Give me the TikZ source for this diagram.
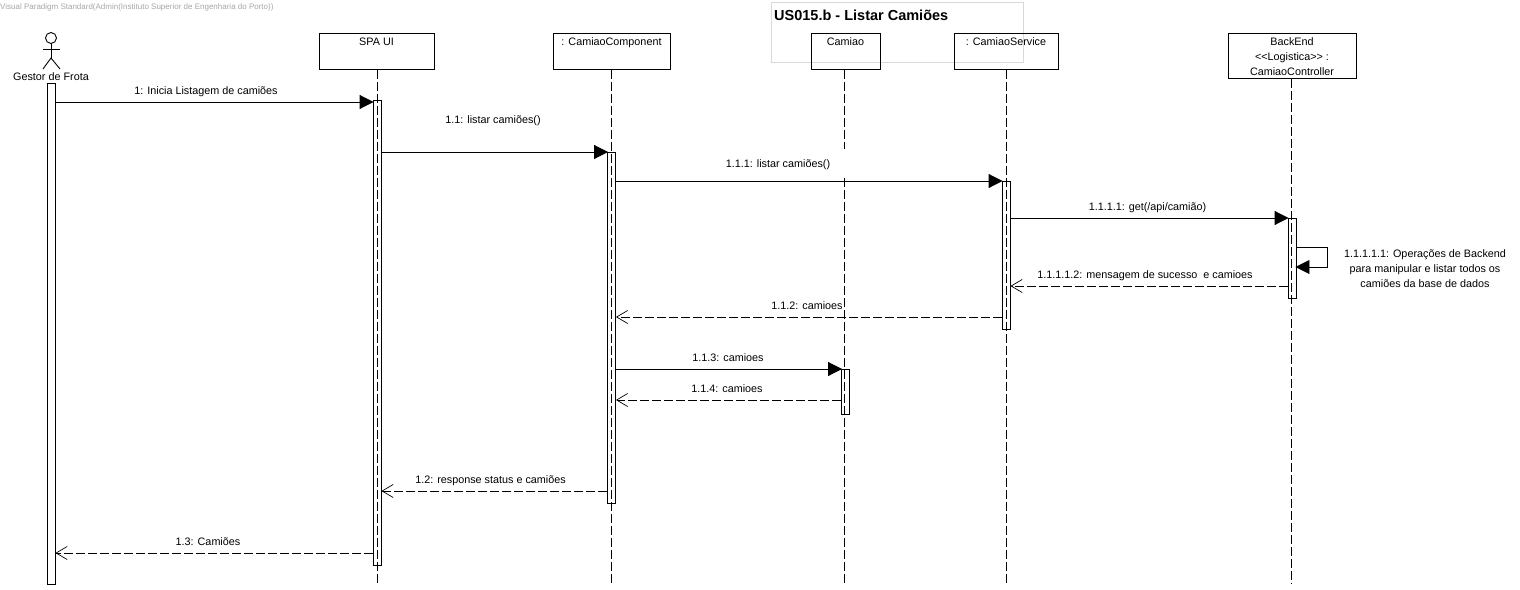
\documentclass[tikz,border=0pt]{standalone}
\usepackage{fontspec}
\setmainfont{Liberation Sans}
\usepackage{xcolor}
\usetikzlibrary{arrows.meta}
\tikzset{
  lifebox/.style={draw, line width=0.9pt, minimum height=36pt, inner sep=0pt, anchor=north},
  boxtext/.style={font=\fontsize{10.8}{15}\selectfont, align=center, yshift=-1.5pt},
  lifeline/.style={line width=0.9pt, dash pattern=on 9pt off 3pt},
  actbar/.style={draw, line width=0.9pt, minimum width=8pt, inner sep=0pt, anchor=north},
  msglabel/.style={font=\fontsize{10.8}{15}\selectfont, align=center, inner sep=0pt, yshift=-1.2pt},
  syncarrow/.style={line width=0.9pt, shorten >=-1pt, -{Triangle[length=14pt,width=14pt]}},
  replyarrow/.style={line width=0.9pt, dash pattern=on 9pt off 3pt, -{Straight Barb[length=11pt,width=13pt,line width=0.7pt]}}
}
\begin{document}
\begin{tikzpicture}[x=1pt, y=-1pt]
\useasboundingbox (0,0) rectangle (1520,589);

% Header
\node[anchor=west, inner sep=0pt, text=gray!70, font=\fontsize{8}{10}\selectfont] (vpmark) at (0,7) {Visual Paradigm Standard(Admin(Instituto Superior de Engenharia do Porto))};
\node[draw=gray!30, line width=0.8pt, minimum width=252pt, minimum height=60pt, inner sep=0pt, anchor=north west] (titlebox) at (771,2) {};
\node[anchor=west, inner sep=0pt, font=\fontsize{14.5}{16}\selectfont\bfseries] (title) at (774,15) {US015.b - Listar Camiões};

% Actor
\node[draw, circle, line width=0.9pt, minimum size=11pt, inner sep=0pt] (gestorhead) at (51,38) {};
\coordinate (gestorhip) at (51,58);
\coordinate (gestorarml) at (43,49);
\coordinate (gestorarmr) at (60,49);
\coordinate (gestorlegl) at (43,69);
\coordinate (gestorlegr) at (60,69);
\draw[line width=0.9pt] (gestorhead) -- (gestorhip);
\draw[line width=0.9pt] (gestorarml) -- (gestorarmr);
\draw[line width=0.9pt] (gestorlegl) -- (gestorhip) -- (gestorlegr);
\node[msglabel] (gestor) at (51,75) {Gestor de Frota};

% Lifelines
\node[lifebox, minimum width=115pt] (spa) at (376.5,33) {};
\node[boxtext, anchor=north] (spatext) at (spa.north) {SPA UI};
\node[lifebox, minimum width=117pt] (comp) at (611.5,33) {};
\node[boxtext, anchor=north] (comptext) at (comp.north) {: CamiaoComponent};
\node[lifebox, minimum width=69pt] (camiao) at (845.5,33) {};
\node[boxtext, anchor=north] (camiaotext) at (camiao.north) {Camiao};
\node[lifebox, minimum width=104pt] (serv) at (1006,33) {};
\node[boxtext, anchor=north] (servtext) at (serv.north) {: CamiaoService};
\node[lifebox, minimum width=128pt, minimum height=45pt] (back) at (1292,33) {};
\node[boxtext, anchor=north] (backtext) at (back.north) {BackEnd\\<{}<Logistica>{}> :\\CamiaoController};

\coordinate (spaend) at (377,583);
\coordinate (compend) at (611,583);
\coordinate (camiaobreak) at (844,149);
\coordinate (camiaoresume) at (844,178);
\coordinate (camiaoend) at (844,583);
\coordinate (servend) at (1006,583);
\coordinate (backend) at (1291,583);
\draw[lifeline] (spa.south -| spaend) -- (spaend);
\draw[lifeline] (comp.south -| compend) -- (compend);
\draw[lifeline] (camiao.south -| camiaoend) -- (camiaobreak);
\draw[lifeline] (camiaoresume) -- (camiaoend);
\draw[lifeline] (serv.south) -- (servend);
\draw[lifeline] (back.south -| backend) -- (backend);

% Activations
\node[actbar, minimum height=501pt] (gestorbar) at (51,83) {};
\node[actbar, minimum height=465pt] (spabar) at (377,100) {};
\node[actbar, minimum height=351pt] (compbar) at (611.5,152) {};
\node[actbar, minimum height=45pt] (camiaobar) at (845.5,369) {};
\node[actbar, minimum height=148pt] (servbar) at (1006,181) {};
\node[actbar, minimum height=80pt] (backbar) at (1292,218) {};

% Messages
\draw[syncarrow] (gestorbar.east |- 0,102) -- (spabar.west |- 0,102);
\draw[syncarrow] (spabar.east |- 0,152) -- (compbar.west |- 0,152);
\draw[syncarrow] (compbar.east |- 0,181) -- (servbar.west |- 0,181);
\draw[syncarrow] (servbar.east |- 0,218) -- (backbar.west |- 0,218);
\draw[syncarrow] (backbar.east |- 0,247) -| (1327,267) -- (backbar.east |- 0,267);
\draw[replyarrow] (backbar.west |- 0,286) -- (servbar.east |- 0,286);
\draw[replyarrow] (servbar.west |- 0,317) -- (compbar.east |- 0,317);
\draw[syncarrow] (compbar.east |- 0,369) -- (camiaobar.west |- 0,369);
\draw[replyarrow] (camiaobar.west |- 0,400) -- (compbar.east |- 0,400);
\draw[replyarrow] (compbar.west |- 0,491) -- (spabar.east |- 0,491);
\draw[replyarrow] (spabar.west |- 0,553) -- (gestorbar.east |- 0,553);

% Labels
\node[msglabel] (m1) at (206,91) {1: Inicia Listagem de camiões};
\node[msglabel] (m11) at (493,120) {1.1: listar camiões()};
\node[msglabel] (m111) at (778,164) {1.1.1: listar camiões()};
\node[msglabel] (m1111) at (1147.5,207) {1.1.1.1: get(/api/camião)};
\node[msglabel] (m11111) at (1425,267) {1.1.1.1.1: Operações de Backend\\para manipular e listar todos os\\camiões da base de dados};
\node[msglabel] (m11112) at (1145,275) {1.1.1.1.2: mensagem de sucesso \ e camioes};
\node[msglabel] (m112) at (807,304) {1.1.2: camioes};
\node[msglabel] (m113) at (728,356) {1.1.3: camioes};
\node[msglabel] (m114) at (727,387) {1.1.4: camioes};
\node[msglabel] (m12) at (490.5,480) {1.2: response status e camiões};
\node[msglabel] (m13) at (208,540) {1.3: Camiões};

\end{tikzpicture}
\end{document}
